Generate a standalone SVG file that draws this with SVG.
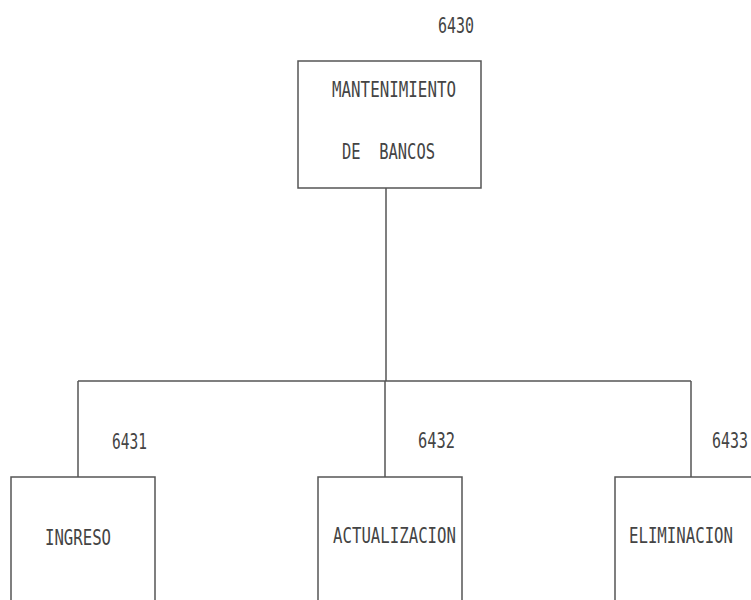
<svg xmlns="http://www.w3.org/2000/svg" width="751" height="600" viewBox="0 0 751 600">
<style>
.box{fill:none;stroke:#555;stroke-width:1.5}
.ln{fill:none;stroke:#555;stroke-width:1.5}
text{font-family:"DejaVu Sans Mono","Liberation Mono",monospace;font-size:22px;fill:#444;white-space:pre}
</style>
<rect width="751" height="600" fill="#fff"/>
<g id="connectors">
<line class="ln" x1="386" y1="188" x2="386" y2="381"/>
<line class="ln" x1="78" y1="381" x2="691" y2="381"/>
<line class="ln" x1="78" y1="381" x2="78" y2="477"/>
<line class="ln" x1="385" y1="381" x2="385" y2="477"/>
<line class="ln" x1="691" y1="381" x2="691" y2="477"/>
</g>
<g id="n6430">
<rect class="box" x="298" y="61" width="183" height="127"/>
<text x="438" y="33" textLength="36" lengthAdjust="spacingAndGlyphs">6430</text>
<text x="332" y="97" textLength="124" lengthAdjust="spacingAndGlyphs">MANTENIMIENTO</text>
<text x="342" y="159" textLength="93" lengthAdjust="spacingAndGlyphs">DE  BANCOS</text>
</g>
<g id="n6431">
<path class="box" d="M11 600 V477 H155 V600"/>
<text x="112" y="449" textLength="35" lengthAdjust="spacingAndGlyphs">6431</text>
<text x="45" y="545" textLength="66" lengthAdjust="spacingAndGlyphs">INGRESO</text>
</g>
<g id="n6432">
<path class="box" d="M318 600 V477 H462 V600"/>
<text x="418" y="448" textLength="37" lengthAdjust="spacingAndGlyphs">6432</text>
<text x="333" y="543" textLength="123" lengthAdjust="spacingAndGlyphs">ACTUALIZACION</text>
</g>
<g id="n6433">
<path class="box" d="M615 600 V477 H751"/>
<text transform="translate(712,448) scale(1,1.5)" x="0" y="0" style="font-size:14.5px" textLength="36" lengthAdjust="spacingAndGlyphs">6433</text>
<text transform="translate(629,543) scale(1,1.42)" x="0" y="0" style="font-size:15.5px" textLength="104" lengthAdjust="spacingAndGlyphs">ELIMINACION</text>
</g>
</svg>
